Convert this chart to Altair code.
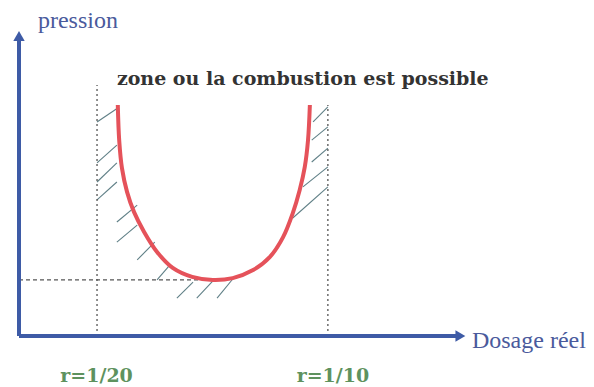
import altair as alt
import pandas as pd

# ---- data (dosage = richness r, pression in arbitrary units) ----
curve_x = [0.0545, 0.0548, 0.0554, 0.0565, 0.0580, 0.0602, 0.0630, 0.0664, 0.0706, 0.0751,
           0.0794, 0.0838, 0.0874, 0.0903, 0.0924, 0.0939, 0.0950, 0.0957, 0.0961]
curve_y = [7.50, 6.36, 5.45, 4.68, 4.03, 3.38, 2.73, 2.21, 1.92, 1.82,
           1.88, 2.14, 2.56, 3.21, 3.99, 4.74, 5.49, 6.36, 7.50]

hatch_x1 = [0.0500, 0.0500, 0.0500, 0.0500, 0.0543, 0.0543, 0.0587, 0.0630,
            0.0673, 0.0716, 0.0760,
            0.0968, 0.0965, 0.0965, 0.0946, 0.0924]
hatch_y1 = [6.95, 5.62, 5.00, 4.42, 3.70, 3.05, 2.47, 1.82,
            1.23, 1.23, 1.23,
            6.95, 6.36, 5.65, 4.84, 3.83]
hatch_x2 = [0.0545, 0.0543, 0.0543, 0.0543, 0.0587, 0.0587, 0.0625, 0.0658,
            0.0708, 0.0751, 0.0794,
            0.1000, 0.1000, 0.1000, 0.1000, 0.1000]
hatch_y2 = [7.40, 6.20, 5.62, 5.00, 4.25, 3.60, 3.05, 2.31,
            1.75, 1.79, 1.85,
            7.44, 6.79, 6.10, 5.49, 4.84]

r_values = [0.05, 0.10]
r_labels = ["r=1/20", "r=1/10"]
r_label_x = [0.0499, 0.1011]
r_tops = [8.15, 7.50]
p_min = 1.82
x_origin = 0.0331
x_dash_end = 0.0723
x_axis_end = 0.1280
y_axis_end = 9.60

title_text = "zone ou la combustion est possible"
x_title = "Dosage réel"
y_title = "pression"

# ---- scales ----
xs = alt.Scale(domain=[0.0331, 0.1297], nice=False, zero=False)
ys = alt.Scale(domain=[0, 10], nice=False, zero=False)

def X(f):
    return alt.X(f, type="quantitative", scale=xs, axis=None)

def Y(f):
    return alt.Y(f, type="quantitative", scale=ys, axis=None)

curve_df = pd.DataFrame({"x": curve_x, "y": curve_y, "i": range(len(curve_x))})
hatch_df = pd.DataFrame({"x": hatch_x1, "y": hatch_y1, "x2": hatch_x2, "y2": hatch_y2})
vdash_df = pd.DataFrame({"x": r_values, "y": [0, 0], "y2": r_tops})
hdash_df = pd.DataFrame({"x": [x_origin], "x2": [x_dash_end], "y": [p_min]})
axes_df = pd.DataFrame({"x": [x_origin, x_origin], "x2": [x_origin, x_axis_end],
                        "y": [0, 0], "y2": [y_axis_end, 0]})
heads_df = pd.DataFrame({"x": [x_origin, 0.1287], "y": [9.74, 0],
                         "shape": ["triangle-up", "triangle-right"]})

axis_color = "#3e5ba6"

hatch = alt.Chart(hatch_df).mark_rule(color="#5f7f86", strokeWidth=1.1).encode(
    x=X("x"), y=Y("y"), x2="x2", y2="y2")

vdash = alt.Chart(vdash_df).mark_rule(color="#555555", strokeWidth=1.3, strokeDash=[2, 3]).encode(
    x=X("x"), y=Y("y"), y2="y2")

hdash = alt.Chart(hdash_df).mark_rule(color="#555555", strokeWidth=1.3, strokeDash=[4, 3]).encode(
    x=X("x"), x2="x2", y=Y("y"))

curve = alt.Chart(curve_df).mark_line(color="#e5525a", strokeWidth=4, interpolate="catmull-rom").encode(
    x=X("x"), y=Y("y"), order="i:Q")

axes = alt.Chart(axes_df).mark_rule(color=axis_color, strokeWidth=4).encode(
    x=X("x"), x2="x2", y=Y("y"), y2="y2")

heads = alt.Chart(heads_df).mark_point(filled=True, color=axis_color, opacity=1, size=130).encode(
    x=X("x"), y=Y("y"), shape=alt.Shape("shape:N", scale=None, legend=None))

labels_df = pd.DataFrame({"x": [0.0372, 0.1312], "y": [10.23, -0.16], "t": [y_title, x_title]})
labels = alt.Chart(labels_df).mark_text(align="left", baseline="middle", font="Liberation Serif",
                                        fontSize=24, color="#4a5a9c").encode(
    x=X("x"), y=Y("y"), text="t:N")

title_df = pd.DataFrame({"x": [0.0543], "y": [8.34], "t": [title_text]})
title = alt.Chart(title_df).mark_text(align="left", baseline="middle", font="DejaVu Serif",
                                      fontWeight="bold", fontSize=19, color="#333333").encode(
    x=X("x"), y=Y("y"), text="t:N")

rlab_df = pd.DataFrame({"x": r_label_x, "y": [-1.30, -1.30], "t": r_labels})
rlab = alt.Chart(rlab_df).mark_text(align="center", baseline="middle", font="DejaVu Serif",
                                    fontWeight="bold", fontSize=19, color="#5e925e").encode(
    x=X("x"), y=Y("y"), text="t:N")

chart = alt.layer(hatch, vdash, hdash, curve, axes, heads, labels, title, rlab).properties(
    width=446, height=308,
    autosize=alt.AutoSizeParams(type="none"),
    padding={"left": 19, "top": 28, "right": 129, "bottom": 51},
    background="white",
).configure_view(stroke=None)

chart.save("out.html", embed_options={"renderer": "svg", "actions": False})
